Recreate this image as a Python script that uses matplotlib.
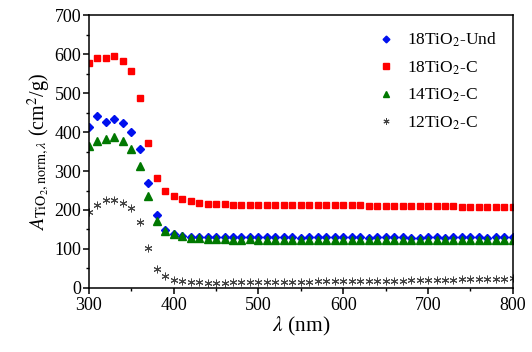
import matplotlib
matplotlib.use("Agg")
import matplotlib.pyplot as plt
import numpy as np

wavelength = list(range(300, 801, 10))

und18 = [414, 440, 426, 434, 423, 400, 356, 268, 188, 149, 138, 134, 131, 130, 130,
         130, 130, 131, 130, 130, 130, 130, 130, 130, 130, 129, 130, 130, 130, 130,
         130, 130, 130, 129, 130, 130, 130, 130, 129, 129, 130, 130, 129, 130, 130,
         130, 130, 129, 130, 130, 130]
c18 = [576, 590, 591, 595, 583, 557, 488, 373, 282, 249, 235, 228, 223, 219, 216,
       215, 215, 214, 214, 213, 214, 213, 213, 213, 213, 212, 213, 212, 212, 212,
       213, 212, 212, 211, 211, 211, 210, 210, 210, 210, 210, 209, 209, 209, 208,
       208, 208, 207, 208, 208, 207]
c14 = [365, 376, 383, 388, 376, 356, 314, 235, 171, 147, 138, 132, 128, 127, 126,
       125, 125, 124, 124, 125, 124, 124, 123, 124, 124, 124, 124, 124, 124, 124,
       124, 124, 124, 124, 124, 123, 124, 124, 123, 124, 124, 124, 124, 124, 123,
       124, 124, 124, 124, 124, 124]
c12 = [196, 213, 225, 225, 219, 205, 168, 102, 49, 30, 20, 17, 15, 14, 13,
       13, 13, 14, 14, 14, 14, 14, 14, 15, 16, 16, 16, 17, 17, 17,
       18, 18, 18, 18, 19, 19, 19, 19, 20, 20, 20, 21, 21, 21, 22,
       22, 22, 23, 23, 24, 25]

labels = [r"18TiO$_2$-Und", r"18TiO$_2$-C", r"14TiO$_2$-C", r"12TiO$_2$-C"]

plt.rcParams["font.family"] = ["Liberation Serif", "DejaVu Serif"]
plt.rcParams["mathtext.fontset"] = "stix"

fig = plt.figure(figsize=(5.32, 3.52), dpi=100)
ax = fig.add_axes([0.167, 0.182, 0.797, 0.775])

ax.plot(wavelength, und18, linestyle="none", marker="D", ms=4.3, color="#0010ee", label=labels[0])
ax.plot(wavelength, c18, linestyle="none", marker="s", ms=4.6, color="#ff0000", label=labels[1])
ax.plot(wavelength, c14, linestyle="none", marker="^", ms=5.3, color="#007800", label=labels[2])
ax.plot(wavelength, c12, linestyle="none", marker=(6, 2, 0), ms=5.5, mew=0.7, color="#444444", label=labels[3])

ax.set_xlim(300, 800)
ax.set_ylim(0, 700)
ax.set_xticks(range(300, 801, 100))
ax.set_yticks(range(0, 701, 100))
ax.set_xticks(range(350, 800, 100), minor=True)
ax.set_yticks(range(50, 700, 100), minor=True)
ax.tick_params(which="major", direction="out", length=4, width=1.1, labelsize=13)
ax.tick_params(axis="x", which="major", pad=2.5)
ax.tick_params(axis="y", which="major", pad=1.5)
ax.tick_params(which="minor", direction="out", length=2.5, width=1.0)
for s in ax.spines.values():
    s.set_linewidth(1.1)

ax.set_xlabel(r"$\lambda$ (nm)", fontsize=15.5, labelpad=1)
ax.set_ylabel(r"$A_{\mathrm{TiO_2,norm},\lambda}$ (cm$^2$/g)", fontsize=14.5, labelpad=1)

ax.legend(loc="upper right", frameon=False, fontsize=12.5, handletextpad=0.6,
          handlelength=1.2, labelspacing=0.58, borderaxespad=0.5, markerscale=0.8,
          bbox_to_anchor=(1.0, 1.0))

fig.savefig("out.png", dpi=100)
